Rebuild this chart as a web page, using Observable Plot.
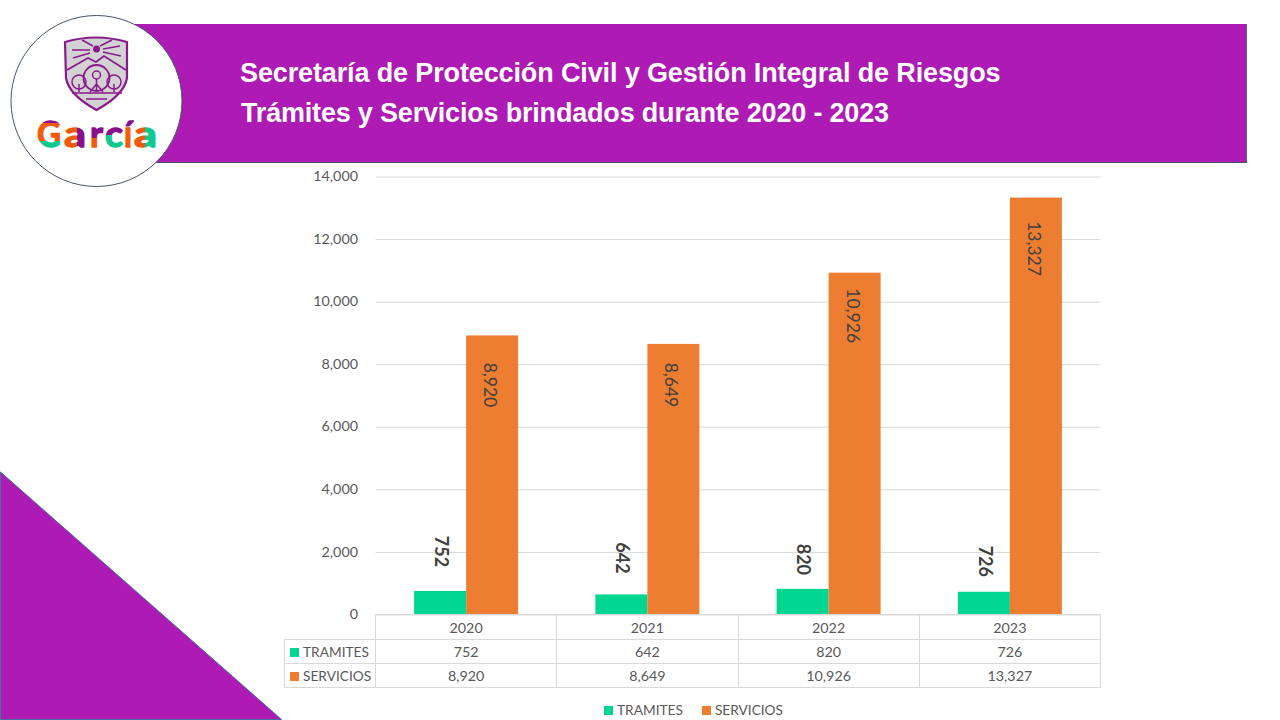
<!DOCTYPE html>
<html lang="es">
<head>
<meta charset="utf-8">
<script src="https://cdn.jsdelivr.net/npm/d3@7"></script>
<script src="https://cdn.jsdelivr.net/npm/@observablehq/plot@0.6"></script>
<style>
  html,body{margin:0;padding:0;background:#fff;width:1280px;height:720px;overflow:hidden}
  #stage{position:relative;width:1280px;height:720px;font-family:Lato,"Open Sans",sans-serif;color:#595959}
  #banner{position:absolute;left:130px;top:24px;width:1117px;height:139px;background:#ae1ab4;border-bottom:1px solid #44546a;border-right:1px solid #6a5a8a;box-sizing:border-box}
  .title{position:absolute;color:#fff;font:bold 27px "Liberation Sans",Arial,sans-serif;white-space:nowrap}
  #corner,#logo{position:absolute;left:0;top:0}
  #plotHost{position:absolute;left:0;top:0}
  #dataTable{position:absolute;left:284px;top:614px;border-collapse:collapse;table-layout:fixed;font-size:14.3px;color:#595959}
  #dataTable td{border:1px solid #d9d9d9;text-align:center;padding:0;height:24px;box-sizing:border-box}
  #dataTable td.blank{border:none;border-right:1px solid #d9d9d9}
  #dataTable td.name{text-align:left;white-space:nowrap;padding-left:5px;font-size:13.7px}
  .key{display:inline-block;width:9px;height:9px;margin-right:4px}
  #legend{position:absolute;top:702px;left:604px;font-size:13.7px;white-space:nowrap;line-height:16px}
  #legend span.item{margin-right:19px}
</style>
</head>
<body>
<div id="stage">
  <div id="plotHost"></div>
  <svg id="corner" width="290" height="720" viewBox="0 0 290 720"><polygon points="0.5,472 281.500,719.500 0.500,719.500" fill="#ae1ab4" stroke="#44709a" stroke-width="1"/></svg>
  <div id="banner"></div>
  <svg id="logo" width="200" height="200" viewBox="0 0 200 200">
    <defs>
      <linearGradient id="gG" x1="0" x2="0" y1="0" y2="1"><stop offset=".28" stop-color="#8a0f8c"/><stop offset=".28" stop-color="#f15a0a"/><stop offset=".68" stop-color="#f15a0a"/><stop offset=".68" stop-color="#0fc98e"/></linearGradient>
      <linearGradient id="gA" x1="0" x2="1" y1="0" y2="0"><stop offset=".6" stop-color="#f15a0a"/><stop offset=".6" stop-color="#8a0f8c"/></linearGradient>
      <linearGradient id="gR" x1="0" x2="0" y1="0" y2="1"><stop offset=".62" stop-color="#8a0f8c"/><stop offset=".62" stop-color="#f15a0a"/></linearGradient>
      <linearGradient id="gC" x1="0" x2="0" y1="0" y2="1"><stop offset=".55" stop-color="#8a0f8c"/><stop offset=".55" stop-color="#0fc98e"/></linearGradient>
      <linearGradient id="gI" x1="0" x2="0" y1="0" y2="1"><stop offset=".38" stop-color="#8a0f8c"/><stop offset=".38" stop-color="#f15a0a"/></linearGradient>
      <linearGradient id="gA2" x1="0" x2="1" y1="0" y2="0"><stop offset=".5" stop-color="#f15a0a"/><stop offset=".5" stop-color="#0fc98e"/></linearGradient>
    </defs>
    <circle cx="96.500" cy="101" r="85.500" fill="#fff" stroke="#44546a" stroke-width="1"/>
    <path d="M65 42 Q96 33 127 42 L127 78 Q124 95 96.500 110 Q69 95 66 78 Z" fill="#d2d2d2" stroke="#8a1a8c" stroke-width="2.200"/>
    <path d="M67 70 L88 58 L96 62 L104 56 L126 70" fill="none" stroke="#8a1a8c" stroke-width="1.800"/>
    <circle cx="96.500" cy="49" r="3.500" fill="#8a1a8c"/>
    <path d="M72 50 L90 50 M73 58 L90 53 M120 46 L103 49 M121 56 L103 52 M82 40 L93 46 M112 40 L100 46" stroke="#8a1a8c" stroke-width="1.500" fill="none"/>
    <circle cx="96.500" cy="78" r="13" fill="none" stroke="#8a1a8c" stroke-width="1.800"/>
    <circle cx="96.500" cy="75" r="4" fill="none" stroke="#8a1a8c" stroke-width="1.500"/>
    <circle cx="79" cy="82" r="7" fill="none" stroke="#8a1a8c" stroke-width="1.500"/>
    <circle cx="114" cy="82" r="7" fill="none" stroke="#8a1a8c" stroke-width="1.500"/>
    <path d="M96.500 79 V92 M90 92 L96.500 84 L103 92 M79 84 V92 M114 84 V92 M72 93 H122 M86 99 H107" stroke="#8a1a8c" stroke-width="1.500" fill="none"/>
    <g font-family="Lato,sans-serif" font-weight="700" font-size="37" stroke-width="1.300" stroke-linejoin="round">
      <text x="37" y="147" textLength="24" lengthAdjust="spacingAndGlyphs" fill="url(#gG)" stroke="url(#gG)">G</text>
      <text x="64" y="147" textLength="22" lengthAdjust="spacingAndGlyphs" fill="url(#gA)" stroke="url(#gA)">a</text>
      <text x="90" y="147" textLength="13" lengthAdjust="spacingAndGlyphs" fill="url(#gR)" stroke="url(#gR)">r</text>
      <text x="105" y="147" textLength="18" lengthAdjust="spacingAndGlyphs" fill="url(#gC)" stroke="url(#gC)">c</text>
      <text x="124" y="147" textLength="8" lengthAdjust="spacingAndGlyphs" fill="url(#gI)" stroke="url(#gI)">í</text>
      <text x="134" y="147" textLength="23" lengthAdjust="spacingAndGlyphs" fill="url(#gA2)" stroke="url(#gA2)">a</text>
    </g>
  </svg>
  <div class="title" style="left:240px;top:58px;letter-spacing:-.13px">Secretaría de Protección Civil y Gestión Integral de Riesgos</div>
  <div class="title" style="left:241px;top:98px;letter-spacing:-.19px">Trámites y Servicios brindados durante 2020 - 2023</div>
  <table id="dataTable"></table>
  <div id="legend"></div>
</div>
<script>
const years = ["2020", "2021", "2022", "2023"];
const seriesNames = ["TRAMITES", "SERVICIOS"];
const tramites = [752, 642, 820, 726];
const servicios = [8920, 8649, 10926, 13327];
const seriesColors = ["#00d68f", "#ed7d31"];
const yTicks = [0, 2000, 4000, 6000, 8000, 10000, 12000, 14000];

const fmt = d3.format(",");
const rows = years.flatMap((year, i) => [
  {year, series: seriesNames[0], value: tramites[i]},
  {year, series: seriesNames[1], value: servicios[i]}
]);
const font = "Lato, 'Open Sans', sans-serif";

// per-year label offsets from the bar tops, as in the reference
const tramitesLift = {"2020": 40, "2021": 37, "2022": 30, "2023": 31};
const serviciosDrop = {"2020": 49, "2021": 40.5, "2022": 42.5, "2023": 50.5};

const chart = Plot.plot({
  width: 1280, height: 720,
  marginLeft: 375.5, marginRight: 179.5, marginTop: 176.5, marginBottom: 105.5,
  style: {background: "transparent", fontFamily: font},
  fx: {domain: years, padding: 0, axis: null, round: false},
  x: {domain: seriesNames, paddingInner: 0, paddingOuter: 0.743, axis: null, round: false},
  y: {domain: [0, 14000], ticks: yTicks, axis: null},
  color: {domain: seriesNames, range: seriesColors},
  marks: [
    Plot.ruleY(yTicks, {stroke: "#d9d9d9", strokeWidth: 1}),
    Plot.axisY({ticks: yTicks, tickSize: 0, tickPadding: 18, tickFormat: fmt, label: null, fontSize: 14.3, color: "#595959", stroke: "none", dy: -0.5}),
    Plot.barY(rows, {fx: "year", x: "series", y: "value", fill: "series"}),
    ...years.map(year => Plot.text(rows.filter(d => d.series === "SERVICIOS" && d.year === year), {
      fx: "year", x: "series", y: "value", text: d => fmt(d.value),
      rotate: 90, dy: serviciosDrop[year], dx: -3, fontSize: 17.5, fill: "#404040"
    })),
    ...years.map(year => Plot.text(rows.filter(d => d.series === "TRAMITES" && d.year === year), {
      fx: "year", x: "series", y: "value", text: d => fmt(d.value),
      rotate: 90, dy: -tramitesLift[year], fontSize: 18, fontWeight: "bold", fill: "#404040"
    }))
  ]
});
document.getElementById("plotHost").append(chart);

// data table under the plot
const table = d3.select("#dataTable");
table.append("colgroup").selectAll("col").data([91, 181.25, 181.25, 181.25, 181.25]).join("col").style("width", d => d + "px");
const head = table.append("tr");
head.append("td").attr("class", "blank").style("height", "25px");
years.forEach(y => head.append("td").style("height", "25px").text(y));
[tramites, servicios].forEach((vals, s) => {
  const tr = table.append("tr");
  const name = tr.append("td").attr("class", "name");
  name.append("span").attr("class", "key").style("background", seriesColors[s]);
  name.append("span").text(seriesNames[s]);
  vals.forEach(v => tr.append("td").text(fmt(v)));
});
table.style("width", "816px");

// legend
const legend = d3.select("#legend");
seriesNames.forEach((n, s) => {
  const it = legend.append("span").attr("class", "item");
  it.append("span").attr("class", "key").style("background", seriesColors[s]);
  it.append("span").text(n);
});
</script>
</body>
</html>
